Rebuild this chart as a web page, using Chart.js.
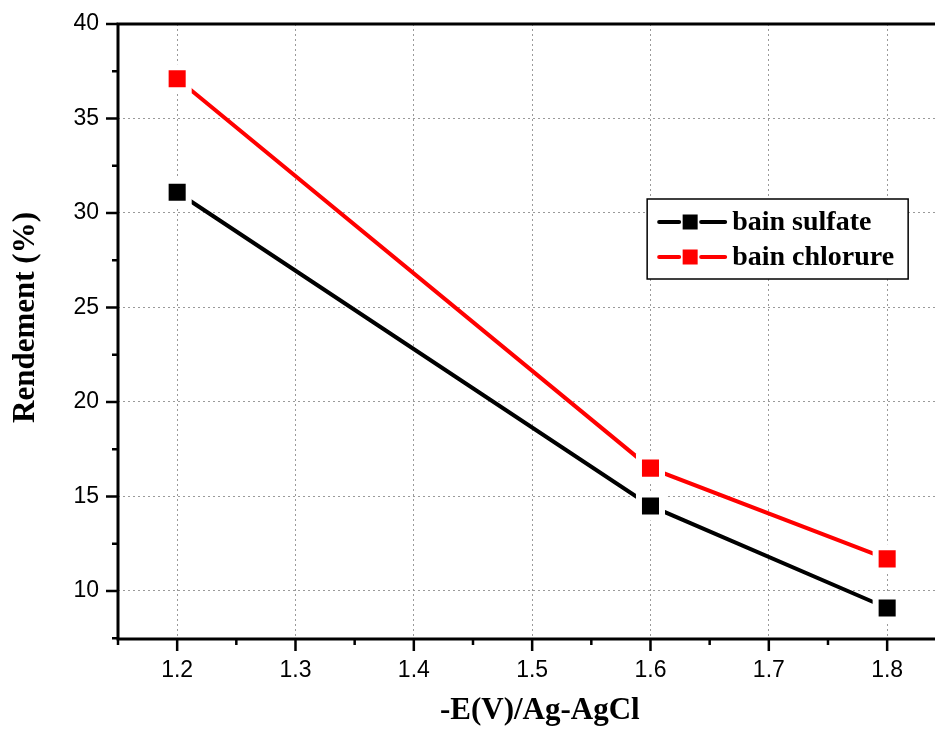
<!DOCTYPE html>
<html>
<head>
<meta charset="utf-8">
<script src="https://cdn.jsdelivr.net/npm/chart.js@4.4.0/dist/chart.umd.min.js"></script>
<style>
  html, body { margin: 0; padding: 0; background: #fff; overflow: hidden; }
  /* the original plot runs past the right edge of the picture */
  #wrap { width: 984px; height: 729px; }
</style>
</head>
<body>
<div id="wrap"><canvas id="chart"></canvas></div>
<script>
const potentials = [1.2, 1.6, 1.8];
const sulfateYield = [31.1, 14.5, 9.1];
const chlorideYield = [37.1, 16.5, 11.7];
const seriesNames = ["bain sulfate", "bain chlorure"];
const seriesColors = ["#000000", "#ff0000"];
const xTicks = [1.2, 1.3, 1.4, 1.5, 1.6, 1.7, 1.8];
const xMinorTicks = [1.15, 1.25, 1.35, 1.45, 1.55, 1.65, 1.75, 1.85];
const yTicks = [10, 15, 20, 25, 30, 35, 40];
const yMinorTicks = [7.5, 12.5, 17.5, 22.5, 27.5, 32.5, 37.5];
const yTitle = "Rendement (%)";
const xTitle = "-E(V)/Ag-AgCl";

const serif = "'Liberation Serif', 'Times New Roman', serif";
const sans = "'Liberation Sans', Arial, sans-serif";

function toPoints(values) {
  return values.map((v, i) => ({ x: potentials[i], y: v }));
}

// axis lines, frame top and tick marks (Origin style, outward)
const axisFrame = {
  id: "axisFrame",
  afterDraw(chart) {
    const { ctx, chartArea: a, scales: { x, y } } = chart;
    ctx.save();
    ctx.strokeStyle = "#000";
    ctx.lineWidth = 3;
    ctx.beginPath();
    ctx.moveTo(a.left, a.top);
    ctx.lineTo(a.right, a.top);
    ctx.moveTo(a.left, a.top - 1.5);
    ctx.lineTo(a.left, a.bottom + 1.5);
    ctx.moveTo(a.left - 1.5, a.bottom);
    ctx.lineTo(a.right, a.bottom);
    ctx.stroke();

    ctx.lineWidth = 2.5;
    ctx.beginPath();
    xTicks.forEach(v => {
      const px = x.getPixelForValue(v);
      ctx.moveTo(px, a.bottom);
      ctx.lineTo(px, a.bottom + 12);
    });
    xMinorTicks.forEach(v => {
      const px = x.getPixelForValue(v);
      ctx.moveTo(px, a.bottom);
      ctx.lineTo(px, a.bottom + 6);
    });
    yTicks.forEach(v => {
      const py = y.getPixelForValue(v);
      ctx.moveTo(a.left, py);
      ctx.lineTo(a.left - 12, py);
    });
    yMinorTicks.forEach(v => {
      const py = y.getPixelForValue(v);
      ctx.moveTo(a.left, py);
      ctx.lineTo(a.left - 6, py);
    });
    ctx.stroke();

    // y title sits a bit above the middle of the axis in the original
    ctx.fillStyle = "#000";
    ctx.font = "bold 31px " + serif;
    ctx.textAlign = "center";
    ctx.textBaseline = "middle";
    ctx.translate(26, (a.top + a.bottom) / 2 - 14);
    ctx.rotate(-Math.PI / 2);
    ctx.fillText(yTitle, 0, 0);
    ctx.restore();
  }
};

// legend box placed inside the plot, relative to the 1.8 position
const legendBox = {
  id: "legendBox",
  afterDraw(chart) {
    const { ctx, chartArea: a, scales: { x } } = chart;
    const left = x.getPixelForValue(1.8) - 240;
    const top = a.top + 175;
    ctx.save();
    ctx.fillStyle = "#fff";
    ctx.fillRect(left, top, 261, 80);
    ctx.strokeStyle = "#000";
    ctx.lineWidth = 1.5;
    ctx.strokeRect(left, top, 261, 80);

    seriesNames.forEach((name, i) => {
      const cy = top + 23 + i * 35;
      const mx = left + 43;
      ctx.strokeStyle = seriesColors[i];
      ctx.fillStyle = seriesColors[i];
      ctx.lineWidth = 4;
      ctx.lineCap = "round";
      ctx.beginPath();
      ctx.moveTo(left + 12, cy);
      ctx.lineTo(mx - 11, cy);
      ctx.moveTo(mx + 11, cy);
      ctx.lineTo(left + 78, cy);
      ctx.stroke();
      ctx.fillRect(mx - 7.5, cy - 7.5, 15, 15);

      ctx.fillStyle = "#000";
      ctx.font = "bold 28px " + serif;
      ctx.textBaseline = "middle";
      ctx.fillText(name, left + 85, cy + 1);
    });
    ctx.restore();
  }
};

function makeDataset(label, values, color) {
  return {
    label: label,
    data: toPoints(values),
    borderColor: color,
    borderWidth: 4,
    borderCapStyle: "round",
    pointStyle: "rect",
    pointRadius: 16.3,
    pointBackgroundColor: color,
    pointBorderColor: "#ffffff",
    pointBorderWidth: 6,
    tension: 0
  };
}

new Chart(document.getElementById("chart"), {
  type: "line",
  data: {
    datasets: [
      makeDataset(seriesNames[0], sulfateYield, seriesColors[0]),
      makeDataset(seriesNames[1], chlorideYield, seriesColors[1])
    ]
  },
  options: {
    responsive: true,
    maintainAspectRatio: false,
    animation: false,
    layout: { padding: { top: 24, right: 0, left: 0, bottom: 0 } },
    plugins: {
      legend: { display: false },
      tooltip: { enabled: false }
    },
    scales: {
      x: {
        type: "linear",
        min: 1.15,
        max: 1.863,
        afterBuildTicks: s => { s.ticks = xTicks.map(v => ({ value: v })); },
        afterFit: s => {
          s.height = 90;
          s.paddingLeft = 0;
          s.paddingRight = 0;
        },
        grid: { color: "#9a9a9a", lineWidth: 1, drawTicks: false },
        border: { display: false, dash: [2, 3] },
        ticks: {
          color: "#000",
          font: { family: sans, size: 23 },
          padding: 18,
          maxRotation: 0,
          callback: v => v.toFixed(1)
        },
        title: {
          display: true,
          text: xTitle,
          color: "#000",
          font: { family: serif, size: 31, weight: "bold" },
          padding: { top: 0, bottom: -1 }
        }
      },
      y: {
        min: 7.46,
        max: 40,
        afterBuildTicks: s => { s.ticks = yTicks.map(v => ({ value: v })); },
        afterFit: s => {
          s.width = 118;
          s.paddingTop = 0;
          s.paddingBottom = 0;
        },
        grid: { color: "#9a9a9a", lineWidth: 1, drawTicks: false },
        border: { display: false, dash: [2, 3] },
        ticks: {
          color: "#000",
          font: { family: sans, size: 23 },
          padding: 19
        },
        title: { display: false }
      }
    }
  },
  plugins: [axisFrame, legendBox]
});
</script>
</body>
</html>
